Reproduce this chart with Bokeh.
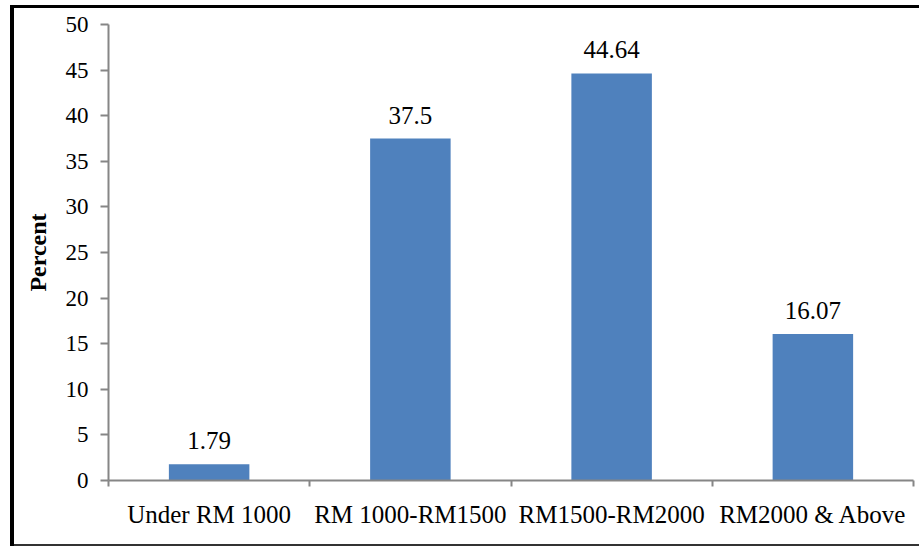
from bokeh.plotting import figure
from bokeh.models import ColumnDataSource, FixedTicker, LabelSet
from bokeh.layouts import column
from bokeh.embed import file_html
from bokeh.resources import INLINE

categories = ["Under RM 1000", "RM 1000-RM1500", "RM1500-RM2000", "RM2000 & Above"]
percent = [1.79, 37.5, 44.64, 16.07]
label_text = ["1.79", "37.5", "44.64", "16.07"]
y_ticks = [0, 5, 10, 15, 20, 25, 30, 35, 40, 45, 50]

xs = [i + 0.5 for i in range(len(categories))]
src = ColumnDataSource(dict(x=xs, top=percent, label=label_text))

FONT = "Liberation Serif"

# page offsets of the original picture's frame
LEFT_GAP, LEFT_LINE = 10, 4
TOP_GAP, TOP_LINE = 5, 3
BOTTOM_LINE = 2

X0 = LEFT_GAP + LEFT_LINE
Y0 = TOP_GAP + TOP_LINE
W = 919 - X0
H = 547 - Y0 - BOTTOM_LINE - 1

p = figure(width=W, height=H, output_backend="svg", toolbar_location=None,
           x_range=(0, len(categories)), y_range=(0, 50),
           min_border_left=108 - X0, min_border_right=6,
           min_border_top=24 - Y0,
           min_border_bottom=H - (480 - Y0))
p.outline_line_color = None
p.xgrid.visible = False
p.ygrid.visible = False
p.background_fill_color = "white"
p.border_fill_color = "white"

p.vbar(x="x", top="top", bottom=0, width=0.4, source=src,
       fill_color="#4F81BD", line_color=None)

p.add_layout(LabelSet(x="x", y="top", text="label", source=src, text_align="center",
                      text_baseline="bottom", y_offset=15, text_font=FONT,
                      text_font_size="25px", text_color="black"))

# x axis
xa = p.xaxis[0]
xa.ticker = FixedTicker(ticks=xs, minor_ticks=list(range(len(categories) + 1)))
xa.major_label_overrides = {x: c for x, c in zip(xs, categories)}
xa.major_tick_out = 0
xa.major_tick_in = 0
xa.minor_tick_out = 6
xa.minor_tick_in = 0
xa.minor_tick_line_color = "#868686"
xa.axis_line_color = "#868686"
xa.axis_line_width = 2
xa.minor_tick_line_width = 2
xa.major_label_text_font = FONT
xa.major_label_text_font_size = "25px"
xa.major_label_text_color = "black"
xa.major_label_standoff = 14

# y axis
ya = p.yaxis[0]
ya.ticker = FixedTicker(ticks=y_ticks, minor_ticks=[])
ya.major_tick_out = 8
ya.major_tick_in = 0
ya.major_tick_line_color = "#868686"
ya.axis_line_color = "#868686"
ya.axis_line_width = 2
ya.major_tick_line_width = 2
ya.major_label_text_font = FONT
ya.major_label_text_font_size = "23px"
ya.major_label_text_color = "black"
ya.major_label_standoff = 12
ya.axis_label = "Percent"
ya.axis_label_text_font = FONT
ya.axis_label_text_font_size = "24px"
ya.axis_label_text_font_style = "bold"
ya.axis_label_text_color = "black"
ya.axis_label_standoff = 12

shadows = ", ".join([
    f"0 {BOTTOM_LINE}px 0 0 #333333",
    f"-{LEFT_LINE}px 0 0 0 black",
    f"0 -{TOP_LINE}px 0 0 black",
    f"-{LEFT_LINE}px -{TOP_LINE}px 0 0 black",
    f"-{LEFT_LINE}px {BOTTOM_LINE}px 0 0 black",
])
layout = column(p, styles={
    "margin-left": f"{X0}px",
    "margin-top": f"{Y0}px",
    "box-shadow": shadows,
})

open("out.html", "w").write(file_html(layout, INLINE))
